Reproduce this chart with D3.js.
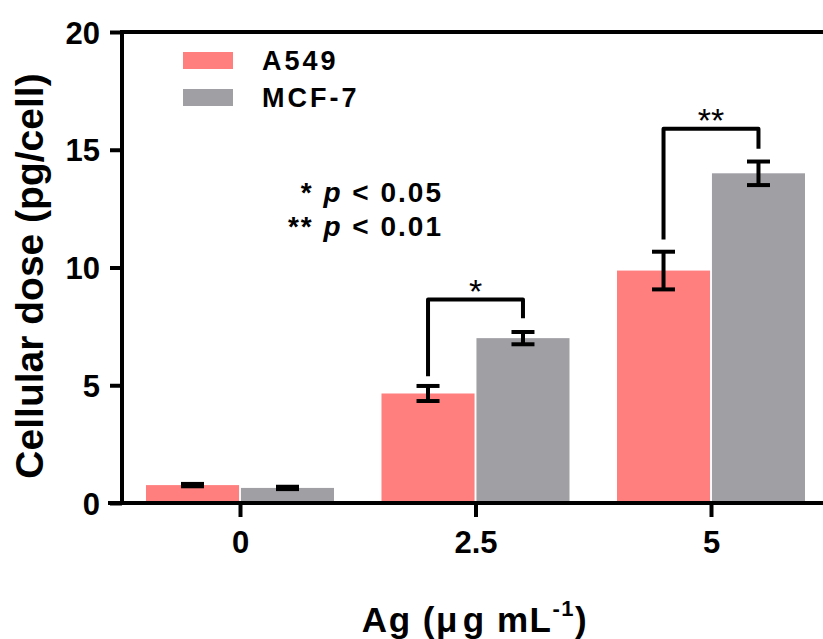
<!DOCTYPE html>
<html>
<head>
<meta charset="utf-8">
<script src="https://cdn.jsdelivr.net/npm/d3@7"></script>
<style>
  body { margin: 0; background: #fff; }
  svg { display: block; font-family: 'Liberation Sans', Arial, sans-serif; font-weight: bold; }
</style>
</head>
<body>
<div class="svg-container"></div>
<script>
const doses = ['0', '2.5', '5']
const cellLines = ['A549', 'MCF-7']
const a549Mean = [0.76, 4.65, 9.87]
const a549Err = [0.05, 0.32, 0.8]
const mcf7Mean = [0.64, 7.0, 14.0]
const mcf7Err = [0.05, 0.26, 0.5]
const yTicks = [0, 5, 10, 15, 20]

// significance brackets: dose, top of bracket, left foot, right foot, label
const brackets = [
  { dose: '2.5', top: 8.64, left: 5.38, right: 7.84, label: '*' },
  { dose: '5', top: 15.89, left: 11.19, right: 15.04, label: '**' }
]

const width = 823
const height = 639
const font = "'Liberation Sans', Arial, sans-serif"
const colors = { 'A549': '#ff7f7f', 'MCF-7': '#a09fa4' }

const svg = d3.select('.svg-container')
  .append('svg')
  .attr('width', width)
  .attr('height', height)

const y = d3.scaleLinear().domain([0, 20]).range([503, 32])
const x = d3.scalePoint().domain(doses).range([240, 711])
const xSub = d3.scaleBand().domain(cellLines).range([-94, 94]).paddingInner(0.02)

const rows = doses.flatMap((dose, i) => [
  { dose, line: 'A549', mean: a549Mean[i], err: a549Err[i] },
  { dose, line: 'MCF-7', mean: mcf7Mean[i], err: mcf7Err[i] }
])

const centre = (dose, line) => x(dose) + xSub(line) + xSub.bandwidth() / 2

// bars
svg.append('g')
  .selectAll('rect')
  .data(rows)
  .join('rect')
    .attr('x', d => x(d.dose) + xSub(d.line))
    .attr('y', d => y(d.mean))
    .attr('width', xSub.bandwidth())
    .attr('height', d => y(0) - y(d.mean))
    .attr('fill', d => colors[d.line])

// error bars
const errs = svg.append('g')
  .attr('stroke', '#000')
  .attr('stroke-width', 4)
  .selectAll('g')
  .data(rows)
  .join('g')
    .attr('transform', d => `translate(${centre(d.dose, d.line)},0)`)

errs.append('line')
  .attr('y1', d => y(d.mean + d.err))
  .attr('y2', d => y(d.mean - d.err))
errs.append('line')
  .attr('x1', -11.5).attr('x2', 11.5)
  .attr('y1', d => y(d.mean + d.err))
  .attr('y2', d => y(d.mean + d.err))
errs.append('line')
  .attr('x1', -11.5).attr('x2', 11.5)
  .attr('y1', d => y(d.mean - d.err))
  .attr('y2', d => y(d.mean - d.err))

// significance brackets
const br = svg.append('g')
  .selectAll('g')
  .data(brackets)
  .join('g')

br.append('path')
  .attr('fill', 'none')
  .attr('stroke', '#000')
  .attr('stroke-width', 4)
  .attr('stroke-linejoin', 'round')
  .attr('d', d => {
    const xl = centre(d.dose, 'A549')
    const xr = centre(d.dose, 'MCF-7')
    return `M${xl},${y(d.left)}V${y(d.top)}H${xr}V${y(d.right)}`
  })

br.append('text')
  .attr('x', d => (centre(d.dose, 'A549') + centre(d.dose, 'MCF-7')) / 2)
  .attr('y', d => y(d.top) + 3)
  .attr('text-anchor', 'middle')
  .attr('font-size', 34)
  .attr('font-weight', 'normal')
  .text(d => d.label)

// axes
const yAxis = svg.append('g')
  .attr('transform', 'translate(122,0)')
  .call(d3.axisLeft(y).tickValues(yTicks).tickSize(12).tickSizeOuter(0).tickPadding(10))
yAxis.select('.domain').remove()
yAxis.selectAll('line').attr('stroke-width', 4)
yAxis.selectAll('text')
  .attr('font-size', 31)
  .attr('font-family', font)
  .attr('font-weight', 'bold')
  .attr('fill', '#000')
  .attr('dy', '0.36em')

const xAxis = svg.append('g')
  .attr('transform', `translate(0,${y(0)})`)
  .call(d3.axisBottom(x).tickSize(14).tickSizeOuter(0).tickPadding(14))
xAxis.select('.domain').remove()
xAxis.selectAll('line').attr('stroke-width', 4)
xAxis.selectAll('text')
  .attr('font-size', 31)
  .attr('font-family', font)
  .attr('font-weight', 'bold')
  .attr('fill', '#000')

// frame lines
svg.append('line')
  .attr('x1', 122).attr('x2', 122)
  .attr('y1', y(20) - 2).attr('y2', y(0) + 2)
  .attr('stroke', '#000').attr('stroke-width', 4)
svg.append('line')
  .attr('x1', 108).attr('x2', width)
  .attr('y1', y(0)).attr('y2', y(0))
  .attr('stroke', '#000').attr('stroke-width', 4)
svg.append('line')
  .attr('x1', 122).attr('x2', width)
  .attr('y1', y(20)).attr('y2', y(20))
  .attr('stroke', '#000').attr('stroke-width', 4)

// legend
const legend = svg.append('g')
  .selectAll('g')
  .data(cellLines)
  .join('g')
    .attr('transform', (d, i) => `translate(183,${52 + i * 37})`)
legend.append('rect')
  .attr('width', 50)
  .attr('height', 17)
  .attr('fill', d => colors[d])
legend.append('text')
  .attr('x', 79)
  .attr('y', 18)
  .attr('font-size', 27)
  .attr('letter-spacing', 3)
  .text(d => d)

// p-value note
const note = svg.append('g').attr('font-size', 28).attr('text-anchor', 'end').attr('letter-spacing', 2)
const n1 = note.append('text').attr('x', 443).attr('y', 202)
n1.append('tspan').text('* ')
n1.append('tspan').attr('font-style', 'italic').text('p')
n1.append('tspan').text(' < 0.05')
const n2 = note.append('text').attr('x', 443).attr('y', 236)
n2.append('tspan').text('** ')
n2.append('tspan').attr('font-style', 'italic').text('p')
n2.append('tspan').text(' < 0.01')

// axis titles
svg.append('text')
  .attr('transform', 'translate(43,276) rotate(-90)')
  .attr('text-anchor', 'middle')
  .attr('font-size', 39)
  .text('Cellular dose (pg/cell)')

const xt = svg.append('text')
  .attr('x', 475)
  .attr('y', 632)
  .attr('text-anchor', 'middle')
  .attr('font-size', 35)
  .attr('letter-spacing', 1.5)
xt.append('tspan').text('Ag (μ')
xt.append('tspan').attr('dx', 4).text('g mL')
xt.append('tspan').attr('font-size', 22).attr('dy', -16).text('-1')
xt.append('tspan').attr('dy', 16).text(')')
</script>
</body>
</html>
